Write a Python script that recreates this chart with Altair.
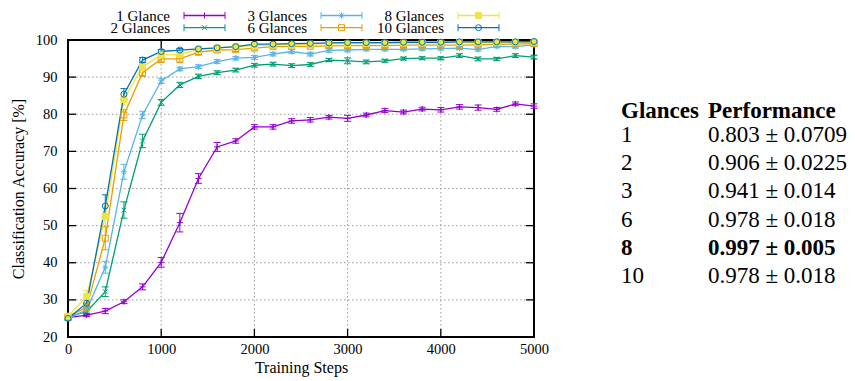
import altair as alt
import pandas as pd

FONT = "Liberation Serif, Times New Roman, Times, serif"

steps = [0, 200, 400, 600, 800, 1000, 1200, 1400, 1600, 1800, 2000, 2200, 2400,
         2600, 2800, 3000, 3200, 3400, 3600, 3800, 4000, 4200, 4400, 4600, 4800, 5000]

series_names = ["1 Glance", "2 Glances", "3 Glances", "6 Glances", "8 Glances", "10 Glances"]
colors = ["#9400d3", "#009e73", "#56b4e9", "#e69f00", "#f0e442", "#0072b2"]
shapes = ["M-1,0H1M0,-1V1",
          "M-0.8,-0.8L0.8,0.8M-0.8,0.8L0.8,-0.8",
          "M-1,0H1M0,-1V1M-0.7,-0.7L0.7,0.7M-0.7,0.7L0.7,-0.7",
          "square", "square", "circle"]
fills = ["transparent", "transparent", "transparent", "transparent", "#f0e442", "transparent"]

acc_1 = [25.2, 25.9, 27.0, 29.5, 33.5, 40.1, 50.8, 62.7, 71.2, 72.8, 76.6, 76.6, 78.2,
         78.5, 79.2, 78.9, 79.8, 81.0, 80.6, 81.4, 81.2, 82.0, 81.8, 81.3, 82.8, 82.2]
err_1 = [0.4, 0.4, 0.7, 0.5, 0.8, 1.3, 2.5, 1.3, 1.2, 0.6, 0.6, 0.6, 0.6,
         0.6, 0.5, 0.8, 0.5, 0.5, 0.5, 0.5, 0.6, 0.6, 0.7, 0.5, 0.5, 0.6]
acc_2 = [25.5, 26.8, 32.2, 54.2, 72.8, 83.2, 87.9, 90.2, 91.2, 91.9, 93.2, 93.5, 93.1,
         93.4, 94.6, 94.4, 94.1, 94.4, 95.0, 95.1, 95.1, 95.8, 94.9, 94.9, 95.8, 95.4]
err_2 = [0.5, 0.8, 1.3, 2.2, 1.8, 0.8, 0.7, 0.6, 0.5, 0.5, 0.5, 0.5, 0.5,
         0.5, 0.4, 0.8, 0.5, 0.4, 0.4, 0.4, 0.4, 0.5, 0.5, 0.4, 0.5, 0.5]
acc_3 = [25.0, 27.3, 38.8, 64.5, 79.8, 89.0, 92.2, 92.8, 94.2, 95.1, 95.3, 96.2, 96.9,
         96.2, 97.2, 97.3, 97.5, 97.5, 97.5, 97.6, 97.7, 97.8, 97.4, 98.3, 98.2, 98.7]
err_3 = [0.5, 0.8, 1.6, 2.0, 1.0, 0.7, 0.5, 0.5, 0.5, 0.5, 0.5, 0.5, 0.5,
         0.5, 0.5, 0.5, 0.4, 0.4, 0.4, 0.4, 0.4, 0.4, 0.4, 0.4, 0.4, 0.4]
acc_6 = [25.5, 28.0, 46.6, 79.8, 91.2, 94.9, 94.9, 96.7, 97.3, 97.4, 97.8, 98.2, 98.3,
         98.3, 98.4, 98.5, 98.5, 98.5, 98.6, 98.6, 98.6, 98.6, 98.7, 98.8, 98.9, 99.0]
err_6 = [0.5, 1.0, 3.1, 1.5, 1.0, 1.0, 1.0, 0.6, 0.5, 0.5, 0.5, 0.4, 0.4,
         0.4, 0.4, 0.4, 0.4, 0.4, 0.4, 0.4, 0.4, 0.4, 0.4, 0.4, 0.4, 0.4]
acc_8 = [25.6, 30.9, 52.5, 84.0, 92.8, 96.0, 96.1, 97.5, 97.8, 98.2, 98.5, 98.7, 98.8,
         98.9, 99.0, 99.0, 99.1, 99.1, 99.2, 99.2, 99.2, 99.3, 99.3, 99.3, 99.4, 99.4]
err_8 = [0.5, 1.6, 3.0, 1.5, 1.5, 0.8, 0.8, 0.6, 0.5, 0.4, 0.4, 0.4, 0.4,
         0.4, 0.4, 0.4, 0.4, 0.4, 0.4, 0.4, 0.4, 0.4, 0.4, 0.4, 0.4, 0.4]
acc_10 = [25.0, 29.1, 55.3, 85.4, 94.6, 96.9, 97.3, 97.6, 97.9, 98.2, 98.9, 98.9, 99.0,
          99.1, 99.2, 99.3, 99.3, 99.3, 99.4, 99.4, 99.4, 99.5, 99.5, 99.5, 99.5, 99.6]
err_10 = [0.4, 1.0, 3.0, 1.5, 0.7, 0.5, 0.4, 0.4, 0.4, 0.3, 0.3, 0.3, 0.3,
          0.3, 0.3, 0.3, 0.3, 0.3, 0.3, 0.3, 0.3, 0.3, 0.3, 0.3, 0.3, 0.3]

x_ticks = [0, 1000, 2000, 3000, 4000, 5000]
y_ticks = [20, 30, 40, 50, 60, 70, 80, 90, 100]

legend_col = [0, 0, 1, 1, 2, 2]
legend_row = [0, 1, 0, 1, 0, 1]

table_glances = ["1", "2", "3", "6", "8", "10"]
table_perf = ["0.803 \u00b1 0.0709", "0.906 \u00b1 0.0225", "0.941 \u00b1 0.014",
              "0.978 \u00b1 0.018", "0.997 \u00b1 0.005", "0.978 \u00b1 0.018"]
table_bold = [False, False, False, False, True, False]
table_header = ["Glances", "Performance"]

W, H = 466, 297

# ---------- data tables ----------
all_acc = [acc_1, acc_2, acc_3, acc_6, acc_8, acc_10]
all_err = [err_1, err_2, err_3, err_6, err_8, err_10]
rows = []
for k, (name, vals, errs) in enumerate(zip(series_names, all_acc, all_err)):
    for s, v, e in zip(steps, vals, errs):
        rows.append(dict(series=name, order=k, step=s, acc=v, lo=v - e, hi=v + e))
df = pd.DataFrame(rows)

leg_df = pd.DataFrame(dict(series=series_names, col=legend_col, row=legend_row))

tab_rows = []
for i, (g, p, b) in enumerate(zip(table_glances, table_perf, table_bold)):
    tab_rows.append(dict(col=0, row=i, text=g, bold=b))
    tab_rows.append(dict(col=1, row=i, text=p, bold=b))
tab_df = pd.DataFrame(tab_rows)
head_df = pd.DataFrame(dict(col=[0, 1], row=[-1, -1], text=table_header))

xt_df = pd.DataFrame(dict(v=x_ticks))
yt_df = pd.DataFrame(dict(v=y_ticks))

# ---------- scales ----------
color_scale = alt.Scale(domain=series_names, range=colors)
shape_scale = alt.Scale(domain=series_names, range=shapes)
fill_scale = alt.Scale(domain=series_names, range=fills)
xs = alt.Scale(domain=[0, 5000], nice=False, zero=False)
ys = alt.Scale(domain=[20, 100], nice=False, zero=False)

x_axis = alt.Axis(values=x_ticks, title="Training Steps", ticks=False, tickSize=0,
                  domain=False, grid=False, labelFont=FONT, labelFontSize=14.5,
                  labelColor="black", labelPadding=5, labelFlush=False, labelOverlap=False,
                  format="d", titleFont=FONT, titleFontSize=16, titleFontWeight="normal",
                  titleColor="black", titlePadding=4)
y_axis = alt.Axis(values=y_ticks, title="Classification Accuracy [%]", ticks=False,
                  tickSize=0, domain=False, grid=False, labelFont=FONT, labelFontSize=14.5,
                  labelColor="black", labelPadding=11, labelFlush=False, labelOverlap=False,
                  format="d", titleFont=FONT, titleFontSize=16, titleFontWeight="normal",
                  titleColor="black", titlePadding=9)

color_enc = alt.Color("series:N", scale=color_scale, legend=None)


def XF(field):
    return alt.X(field, scale=xs, axis=x_axis)


def YF(field):
    return alt.Y(field, scale=ys, axis=y_axis)


def XD(v):
    return alt.datum(v, scale=xs, axis=x_axis)


def YD(v):
    return alt.datum(v, scale=ys, axis=y_axis)


base = alt.Chart(df)

grid_style = dict(color="#9a9a9a", strokeWidth=1, strokeDash=[1.5, 2.5], opacity=1)
grid_x = alt.Chart(xt_df).mark_rule(**grid_style).encode(
    x=XF("v:Q"), y=alt.value(0), y2=alt.value(H))
grid_y = alt.Chart(yt_df).mark_rule(**grid_style).encode(
    y=YF("v:Q"), x=alt.value(0), x2=alt.value(W))

lines = base.mark_line(strokeWidth=1.3).encode(
    x=XF("step:Q"), y=YF("acc:Q"), color=color_enc, order="step:Q")
bars = base.mark_rule(strokeWidth=1).encode(
    x=XF("step:Q"), y=YF("lo:Q"), y2="hi:Q", color=color_enc)
cap_lo = base.mark_point(shape="M-1,0H1", size=49, strokeWidth=1, opacity=1).encode(
    x=XF("step:Q"), y=YF("lo:Q"), color=color_enc)
cap_hi = base.mark_point(shape="M-1,0H1", size=49, strokeWidth=1, opacity=1).encode(
    x=XF("step:Q"), y=YF("hi:Q"), color=color_enc)
points = base.mark_point(size=36, strokeWidth=1, opacity=1).encode(
    x=XF("step:Q"), y=YF("acc:Q"),
    stroke=alt.Stroke("series:N", scale=color_scale, legend=None),
    shape=alt.Shape("series:N", scale=shape_scale, legend=None),
    fill=alt.Fill("series:N", scale=fill_scale, legend=None),
)

border = alt.Chart(xt_df).mark_rect(filled=False, stroke="black", strokeWidth=1.5).encode(
    x=XD(0), x2=alt.datum(5000), y=YD(20), y2=alt.datum(100))

tick_style = dict(color="black", strokeWidth=1.3, opacity=1)
t_bottom = alt.Chart(xt_df).mark_rule(**tick_style).encode(
    x=XF("v:Q"), y=alt.value(H), y2=alt.value(H - 8))
t_top = alt.Chart(xt_df).mark_rule(**tick_style).encode(
    x=XF("v:Q"), y=alt.value(0), y2=alt.value(8))
t_left = alt.Chart(yt_df).mark_rule(**tick_style).encode(
    y=YF("v:Q"), x=alt.value(0), x2=alt.value(8))
t_right = alt.Chart(yt_df).mark_rule(**tick_style).encode(
    y=YF("v:Q"), x=alt.value(W), x2=alt.value(W - 8))

main = alt.layer(grid_x, grid_y, border, t_bottom, t_top, t_left, t_right,
                 bars, cap_lo, cap_hi, lines, points)

# ---------- legend (gnuplot style, above plot) ----------
lx = alt.Scale(domain=[0, 2], range=[102, 376], nice=False, zero=False)
ly = alt.Scale(domain=[0, 1], range=[-24.5, -12.3], nice=False, zero=False)
lbase = alt.Chart(leg_df)
LX = alt.X("col:Q", scale=lx, axis=None)
LY = alt.Y("row:Q", scale=ly, axis=None)
leg_text = lbase.mark_text(align="right", baseline="middle", font=FONT, fontSize=15,
                           color="black").encode(x=LX, y=LY, text="series:N")
leg_line = lbase.mark_rule(xOffset=14, x2Offset=55, strokeWidth=1.3).encode(
    x=LX, x2="col:Q", y=LY, color=color_enc)
leg_cap1 = lbase.mark_point(shape="M0,-1V1", size=49, xOffset=14, strokeWidth=1,
                            opacity=1).encode(x=LX, y=LY, color=color_enc)
leg_cap2 = lbase.mark_point(shape="M0,-1V1", size=49, xOffset=55, strokeWidth=1,
                            opacity=1).encode(x=LX, y=LY, color=color_enc)
leg_pt = lbase.mark_point(size=36, xOffset=34.5, strokeWidth=1, opacity=1).encode(
    x=LX, y=LY,
    stroke=alt.Stroke("series:N", scale=color_scale, legend=None),
    shape=alt.Shape("series:N", scale=shape_scale, legend=None),
    fill=alt.Fill("series:N", scale=fill_scale, legend=None),
)
legend = alt.layer(leg_line, leg_cap1, leg_cap2, leg_pt, leg_text)

# ---------- table on the right ----------
tx = alt.Scale(domain=[0, 1], range=[553, 640], nice=False, zero=False)
ty = alt.Scale(domain=[0, 5], range=[102, 243], nice=False, zero=False)
TX = alt.X("col:Q", scale=tx, axis=None)
TY = alt.Y("row:Q", scale=ty, axis=None)
tab_norm = alt.Chart(tab_df).transform_filter("!datum.bold").mark_text(
    align="left", baseline="alphabetic", font=FONT, fontSize=23, color="black").encode(
    x=TX, y=TY, text="text:N")
tab_bold = alt.Chart(tab_df).transform_filter("datum.bold").mark_text(
    align="left", baseline="alphabetic", font=FONT, fontSize=23, fontWeight="bold",
    color="black").encode(x=TX, y=TY, text="text:N")
tab_head = alt.Chart(head_df).mark_text(
    align="left", baseline="alphabetic", font=FONT, fontSize=23, fontWeight="bold",
    color="black", dy=4).encode(x=TX, y=TY, text="text:N")
table = alt.layer(tab_norm, tab_bold, tab_head)

chart = alt.layer(main, legend, table).resolve_scale(
    x="independent", y="independent"
).properties(
    width=W, height=H,
    autosize=alt.AutoSizeParams(type="none"),
    padding={"left": 60, "top": 32, "right": 313, "bottom": 44},
).configure_view(stroke=None).configure_axis(
    labelFont=FONT, titleFont=FONT, labelOverlap=False
)

chart.save("out.html", embed_options={"renderer": "svg", "actions": False})
